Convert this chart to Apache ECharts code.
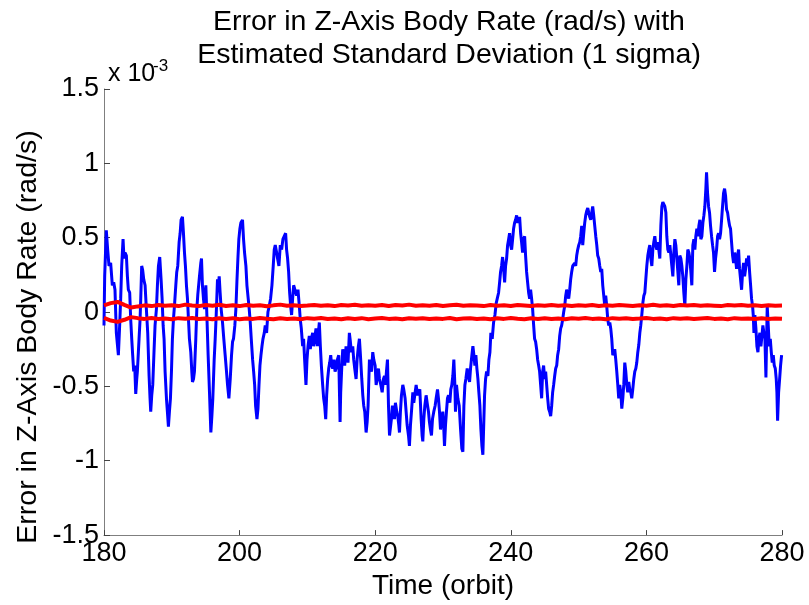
<!DOCTYPE html>
<html><head><meta charset="utf-8">
<script src="https://cdn.jsdelivr.net/npm/echarts@6/dist/echarts.min.js"></script>
<style>html,body{margin:0;padding:0;background:#fff}#c{width:809px;height:605px}</style>
</head><body><div id="c"></div>
<script>
// Title / labels
const titleLines = ['Error in Z-Axis Body Rate (rad/s) with', 'Estimated Standard Deviation (1 sigma)'];
const xLabel = 'Time (orbit)';
const yLabel = 'Error in Z-Axis Body Rate (rad/s)';
const yScaleBase = 'x 10';
const yScaleExp = '-3';

// Blue: error in Z-axis body rate, units 1e-3 rad/s, [orbit, value]
const blueA = [[180.00,-0.09],[180.10,0.24],[180.34,0.55],[180.54,0.42],[180.74,0.31],[180.98,0.33],[181.23,0.18],[181.43,0.20],[181.62,0.15],[181.82,-0.14],[182.12,-0.29],[182.31,-0.09],[182.46,0.09],[182.61,0.31],[182.81,0.49],[182.95,0.36],[183.10,0.40],[183.30,0.38],[183.45,0.24],[183.59,0.15],[183.79,0.13],[183.94,-0.05],[184.09,-0.18],[184.23,-0.29],[184.38,-0.40],[184.53,-0.36],[184.68,-0.55],[184.83,-0.45],[184.92,-0.40],[185.07,-0.27],[185.17,-0.18],[185.32,-0.05],[185.42,0.09],[185.56,0.31],[185.71,0.28],[185.86,0.22],[186.06,0.18],[186.25,0.02],[186.45,-0.14],[186.65,-0.43],[186.79,-0.58],[186.89,-0.67],[187.04,-0.56],[187.19,-0.49],[187.39,-0.25],[187.53,-0.09],[187.73,0.02],[187.88,0.18],[188.03,0.31],[188.22,0.37],[188.42,0.22],[188.57,0.09],[188.72,-0.09],[188.86,-0.18],[189.01,-0.40],[189.21,-0.58],[189.35,-0.67],[189.50,-0.77],[189.65,-0.67],[189.80,-0.58],[189.95,-0.40],[190.09,-0.18],[190.24,-0.05],[190.39,0.04],[190.59,0.18],[190.73,0.27],[190.88,0.31],[191.08,0.47],[191.23,0.53],[191.37,0.62],[191.57,0.64],[191.72,0.53],[191.87,0.40],[192.01,0.31],[192.16,0.18],[192.31,0.09],[192.46,-0.05],[192.60,-0.18],[192.80,-0.27],[192.95,-0.40],[193.05,-0.47],[193.20,-0.45],[193.34,-0.40],[193.54,-0.18],[193.69,0.02],[193.84,0.12]];
const blueB = [[194.08,0.24],[194.28,0.33],[194.38,0.36],[194.52,0.18],[194.67,0.09],[194.82,0.02],[195.02,0.18],[195.17,-0.02],[195.36,-0.29],[195.56,-0.54],[195.76,-0.81],[195.91,-0.70],[196.05,-0.58],[196.25,-0.32],[196.40,-0.18],[196.55,-0.02],[196.74,0.22],[196.89,0.18],[196.99,0.24],[197.13,0.13],[197.28,0.02],[197.48,-0.07],[197.67,-0.18],[197.87,-0.29],[198.07,-0.40],[198.22,-0.49],[198.42,-0.58],[198.62,-0.45],[198.81,-0.29],[198.96,-0.20],[199.10,-0.18],[199.30,-0.09],[199.45,0.02],[199.60,0.20],[199.75,0.36],[199.89,0.49],[200.04,0.56],[200.19,0.60],[200.43,0.62],[200.58,0.49],[200.73,0.40],[200.93,0.31],[201.08,0.18],[201.27,0.09],[201.42,0.02],[201.57,-0.07],[201.72,-0.18],[201.92,-0.32],[202.07,-0.40],[202.22,-0.49],[202.36,-0.63],[202.56,-0.72],[202.71,-0.65],[202.86,-0.49],[203.00,-0.36],[203.15,-0.29],[203.30,-0.23],[203.45,-0.18],[203.64,-0.14],[203.78,-0.09],[203.98,-0.14],[204.18,0.00],[204.37,0.04],[204.57,0.09],[204.77,0.18],[204.96,0.31],[205.11,0.42],[205.26,0.45],[205.46,0.40],[205.60,0.36],[205.80,0.31],[206.00,0.45],[206.20,0.42],[206.39,0.49],[206.59,0.51],[206.79,0.53],[206.93,0.42],[207.08,0.36],[207.23,0.27],[207.38,0.13],[207.53,0.04],[207.67,-0.02],[207.82,0.09],[207.97,0.18]];
const blueC = [[208.21,0.18],[208.41,0.11],[208.61,0.15],[208.81,0.04],[208.95,-0.05],[209.10,-0.11],[209.30,-0.23],[209.44,-0.18],[209.59,-0.32],[209.79,-0.49],[209.94,-0.32],[210.09,-0.23],[210.28,-0.16],[210.43,-0.25],[210.58,-0.18],[210.78,-0.14],[210.92,-0.23],[211.07,-0.18],[211.27,-0.11],[211.46,-0.23],[211.61,-0.14],[211.76,-0.07],[211.91,-0.23],[212.06,-0.36],[212.25,-0.49],[212.40,-0.58],[212.55,-0.63],[212.70,-0.72],[212.84,-0.56],[212.99,-0.45],[213.14,-0.38],[213.29,-0.34],[213.44,-0.29],[213.58,-0.36],[213.73,-0.38],[213.93,-0.32],[214.08,-0.40],[214.22,-0.38],[214.42,-0.32],[214.62,-0.29],[214.72,-0.52],[214.82,-0.74],[214.91,-0.54],[215.06,-0.38],[215.21,-0.25],[215.36,-0.32],[215.50,-0.36],[215.70,-0.23],[215.84,-0.27],[215.99,-0.34],[216.19,-0.14],[216.34,-0.20],[216.49,-0.27],[216.69,-0.23],[216.83,-0.32],[216.98,-0.38],[217.18,-0.45],[217.33,-0.32],[217.52,-0.23],[217.67,-0.18],[217.82,-0.29],[218.02,-0.45],[218.17,-0.56],[218.31,-0.63],[218.46,-0.67],[218.66,-0.81],[218.81,-0.74],[218.95,-0.63],[219.15,-0.32],[219.30,-0.38],[219.45,-0.40],[219.64,-0.27],[219.79,-0.32],[219.99,-0.36],[220.14,-0.49],[220.34,-0.43],[220.48,-0.38],[220.63,-0.45],[220.83,-0.49],[221.03,-0.54],[221.22,-0.45],[221.37,-0.43],[221.51,-0.49],[221.66,-0.40],[221.81,-0.32],[221.96,-0.63],[222.11,-0.83]];
const blueD = [[222.24,-0.83],[222.39,-0.72],[222.54,-0.63],[222.69,-0.67],[222.84,-0.72],[222.98,-0.61],[223.18,-0.67],[223.33,-0.70],[223.48,-0.76],[223.58,-0.81],[223.72,-0.67],[223.87,-0.56],[224.07,-0.49],[224.21,-0.52],[224.41,-0.58],[224.56,-0.67],[224.71,-0.76],[224.91,-0.83],[225.05,-0.90],[225.20,-0.76],[225.35,-0.67],[225.55,-0.54],[225.69,-0.61],[225.89,-0.54],[226.04,-0.49],[226.23,-0.56],[226.38,-0.54],[226.58,-0.52],[226.78,-0.72],[226.92,-0.83],[227.02,-0.87],[227.17,-0.72],[227.32,-0.63],[227.51,-0.56],[227.66,-0.61],[227.86,-0.67],[228.00,-0.74],[228.15,-0.79],[228.30,-0.83],[228.45,-0.72],[228.64,-0.67],[228.84,-0.63],[228.99,-0.58],[229.19,-0.52],[229.33,-0.58],[229.48,-0.67],[229.63,-0.79],[229.78,-0.72],[229.97,-0.67],[230.12,-0.79],[230.22,-0.90],[230.37,-0.76],[230.51,-0.67],[230.66,-0.58],[230.81,-0.56],[231.01,-0.61],[231.15,-0.52],[231.30,-0.49],[231.45,-0.43],[231.60,-0.32],[231.75,-0.49],[231.84,-0.67],[231.99,-0.49],[232.19,-0.58],[232.39,-0.63],[232.59,-0.79],[232.78,-0.92],[232.93,-0.94],[233.08,-0.63],[233.23,-0.49],[233.37,-0.45],[233.57,-0.38],[233.72,-0.43],[233.92,-0.47],[234.06,-0.38],[234.26,-0.29],[234.41,-0.23],[234.56,-0.29],[234.70,-0.36],[234.85,-0.29],[235.00,-0.38],[235.15,-0.45],[235.29,-0.54],[235.44,-0.63],[235.59,-0.79],[235.74,-0.90],[235.88,-0.96],[236.03,-0.72]];
const blueE = [[236.13,-0.56],[236.28,-0.45],[236.43,-0.40],[236.62,-0.43],[236.77,-0.32],[236.92,-0.27],[237.06,-0.14],[237.26,-0.18],[237.46,-0.07],[237.66,-0.02],[237.85,0.06],[238.00,0.09],[238.20,0.13],[238.35,0.20],[238.49,0.27],[238.64,0.31],[238.79,0.37],[238.94,0.29],[239.09,0.20],[239.23,0.31],[239.38,0.36],[239.53,0.45],[239.68,0.49],[239.82,0.53],[239.97,0.45],[240.12,0.42],[240.27,0.49],[240.41,0.56],[240.56,0.60],[240.71,0.62],[240.86,0.65],[241.00,0.60],[241.15,0.62],[241.30,0.64],[241.45,0.53],[241.59,0.47],[241.74,0.40],[241.89,0.49],[242.04,0.51],[242.18,0.38],[242.33,0.27],[242.48,0.20],[242.63,0.13],[242.78,0.09],[242.92,0.15],[243.07,0.09],[243.22,0.02],[243.37,-0.09],[243.51,-0.18],[243.66,-0.20],[243.81,-0.25],[243.96,-0.32],[244.11,-0.36],[244.25,-0.40],[244.40,-0.49],[244.55,-0.58],[244.70,-0.40],[244.84,-0.36],[244.99,-0.45],[245.14,-0.40],[245.29,-0.49],[245.44,-0.58],[245.58,-0.65],[245.73,-0.67],[245.88,-0.70],[246.03,-0.63],[246.17,-0.54],[246.32,-0.49],[246.47,-0.43],[246.62,-0.38],[246.77,-0.36],[246.91,-0.29],[247.06,-0.25],[247.21,-0.16],[247.36,-0.11],[247.50,-0.09],[247.65,-0.05],[247.80,0.00],[247.95,0.04],[248.10,0.11],[248.24,0.15],[248.39,0.13],[248.54,0.09],[248.69,0.15],[248.83,0.22],[248.98,0.27],[249.13,0.31],[249.28,0.31],[249.43,0.33],[249.57,0.31],[249.72,0.38],[249.87,0.42],[250.02,0.45],[250.17,0.47]];
const blueF = [[250.31,0.51],[250.46,0.58],[250.61,0.45],[250.76,0.53],[250.90,0.60],[251.05,0.65],[251.20,0.68],[251.35,0.70],[251.49,0.67],[251.64,0.64],[251.79,0.62],[251.94,0.67],[252.08,0.71],[252.23,0.65],[252.38,0.58],[252.53,0.51],[252.68,0.45],[252.82,0.38],[252.97,0.36],[253.12,0.31],[253.27,0.27],[253.41,0.29],[253.56,0.18],[253.71,0.11],[253.86,0.04],[254.00,0.11],[254.15,0.04],[254.30,-0.05],[254.45,-0.09],[254.60,-0.07],[254.74,-0.11],[254.89,-0.18],[255.04,-0.29],[255.19,-0.27],[255.33,-0.25],[255.48,-0.32],[255.63,-0.40],[255.78,-0.49],[255.92,-0.58],[256.07,-0.49],[256.22,-0.54],[256.37,-0.65],[256.52,-0.58],[256.66,-0.49],[256.81,-0.34],[256.96,-0.40],[257.11,-0.49],[257.25,-0.54],[257.40,-0.47],[257.55,-0.52],[257.70,-0.54],[257.84,-0.58],[257.99,-0.52],[258.14,-0.45],[258.29,-0.40],[258.44,-0.38],[258.58,-0.34],[258.73,-0.27],[258.88,-0.22],[259.03,-0.14],[259.17,-0.09],[259.32,-0.02],[259.47,0.06],[259.62,0.11],[259.77,0.13],[259.91,0.22],[260.06,0.31],[260.21,0.38],[260.36,0.42],[260.50,0.45],[260.65,0.36],[260.80,0.31],[260.95,0.42],[261.09,0.47],[261.24,0.51],[261.39,0.45],[261.54,0.42],[261.69,0.47],[261.83,0.42],[261.98,0.36],[262.13,0.58],[262.28,0.71],[262.42,0.74],[262.57,0.75],[262.72,0.71],[262.87,0.67],[263.01,0.51],[263.16,0.42],[263.31,0.40],[263.46,0.45],[263.61,0.38],[263.75,0.31],[263.90,0.24],[264.05,0.40],[264.20,0.49]];
const blueG = [[264.34,0.45],[264.49,0.36],[264.64,0.27],[264.78,0.18],[264.93,0.38],[265.08,0.36],[265.23,0.31],[265.37,0.24],[265.52,0.13],[265.67,0.04],[265.82,0.22],[265.97,0.31],[266.11,0.42],[266.26,0.40],[266.41,0.36],[266.56,0.27],[266.70,0.18],[266.85,0.45],[267.00,0.49],[267.15,0.42],[267.29,0.51],[267.44,0.56],[267.59,0.51],[267.74,0.58],[267.89,0.62],[268.03,0.49],[268.18,0.51],[268.33,0.60],[268.48,0.65],[268.62,0.71],[268.77,0.83],[268.87,0.94],[269.02,0.80],[269.17,0.71],[269.31,0.67],[269.46,0.58],[269.61,0.51],[269.76,0.45],[269.90,0.40],[270.05,0.27],[270.20,0.36],[270.35,0.42],[270.50,0.51],[270.64,0.53],[270.79,0.49],[270.94,0.53],[271.09,0.62],[271.23,0.71],[271.38,0.80],[271.53,0.83],[271.68,0.78],[271.82,0.69],[271.97,0.67],[272.12,0.62],[272.27,0.58],[272.41,0.56],[272.56,0.47],[272.71,0.38],[272.86,0.33],[273.01,0.40],[273.15,0.36],[273.30,0.29],[273.45,0.38],[273.60,0.42],[273.74,0.29],[273.89,0.22],[274.04,0.15],[274.19,0.27],[274.33,0.33],[274.48,0.24],[274.63,0.29],[274.78,0.36],[274.92,0.31],[275.07,0.38],[275.22,0.27],[275.37,0.18],[275.51,0.09],[275.66,0.04],[275.76,-0.02],[275.86,-0.14],[276.00,-0.02],[276.15,-0.11],[276.30,-0.23],[276.45,-0.27],[276.59,-0.18],[276.74,-0.14],[276.89,-0.23],[277.04,-0.16],[277.18,-0.09],[277.33,-0.14],[277.48,-0.18],[277.63,-0.44],[277.73,-0.18],[277.82,0.04],[277.97,-0.09],[278.12,-0.23],[278.27,-0.18],[278.42,-0.27],[278.56,-0.34],[278.71,-0.29],[278.86,-0.36],[279.01,-0.38],[279.15,-0.45],[279.25,-0.54],[279.35,-0.73],[279.50,-0.54],[279.65,-0.45],[279.79,-0.36],[279.94,-0.29]];

// Red: estimated 1-sigma bounds, units 1e-3 rad/s
const sigmaOrbit = [180,181,182,183,184,185,186,187,188,189,190,191,192,193,194,195,196,197,198,199,200,201,202,203,204,205,206,207,208,209,210,211,212,213,214,215,216,217,218,219,220,221,222,223,224,225,226,227,228,229,230,231,232,233,234,235,236,237,238,239,240,241,242,243,244,245,246,247,248,249,250,251,252,253,254,255,256,257,258,259,260,261,262,263,264,265,266,267,268,269,270,271,272,273,274,275,276,277,278,279,280];
const sigmaUpper = [0.045,0.060,0.068,0.048,0.030,0.038,0.045,0.040,0.048,0.042,0.046,0.040,0.050,0.044,0.040,0.047,0.043,0.049,0.041,0.045,0.040,0.048,0.043,0.046,0.039,0.045,0.050,0.042,0.046,0.041,0.044,0.048,0.042,0.046,0.040,0.047,0.044,0.049,0.042,0.046,0.043,0.048,0.041,0.047,0.044,0.050,0.042,0.046,0.043,0.048,0.041,0.045,0.049,0.042,0.046,0.044,0.040,0.047,0.043,0.046,0.041,0.048,0.044,0.040,0.046,0.043,0.048,0.042,0.045,0.040,0.046,0.043,0.048,0.041,0.045,0.042,0.047,0.044,0.040,0.046,0.043,0.049,0.042,0.045,0.041,0.047,0.044,0.048,0.042,0.046,0.043,0.040,0.047,0.044,0.048,0.042,0.045,0.041,0.046,0.043,0.044];
const sigmaLower = [-0.040,-0.057,-0.066,-0.052,-0.034,-0.041,-0.046,-0.040,-0.047,-0.043,-0.049,-0.041,-0.045,-0.040,-0.047,-0.043,-0.048,-0.042,-0.046,-0.041,-0.048,-0.043,-0.046,-0.040,-0.045,-0.049,-0.042,-0.046,-0.043,-0.048,-0.041,-0.045,-0.040,-0.047,-0.043,-0.049,-0.042,-0.046,-0.041,-0.048,-0.044,-0.040,-0.046,-0.043,-0.049,-0.042,-0.045,-0.041,-0.047,-0.043,-0.046,-0.040,-0.048,-0.044,-0.041,-0.047,-0.043,-0.049,-0.042,-0.046,-0.040,-0.045,-0.048,-0.042,-0.046,-0.041,-0.047,-0.043,-0.049,-0.042,-0.045,-0.040,-0.046,-0.043,-0.048,-0.041,-0.045,-0.042,-0.047,-0.044,-0.040,-0.046,-0.043,-0.048,-0.041,-0.045,-0.042,-0.047,-0.043,-0.040,-0.046,-0.044,-0.048,-0.041,-0.045,-0.043,-0.047,-0.042,-0.046,-0.043,-0.045];

const FONT = '"Liberation Sans", Arial, Helvetica, sans-serif';
const blue = [].concat(blueA, blueB, blueC, blueD, blueE, blueF, blueG);
const upper = sigmaOrbit.map((t, i) => [t, sigmaUpper[i]]);
const lower = sigmaOrbit.map((t, i) => [t, sigmaLower[i]]);

const chart = echarts.init(document.getElementById('c'), null, {renderer: 'canvas'});
const axisGray = '#7f7f7f';
chart.setOption({
  animation: false,
  backgroundColor: '#ffffff',
  title: {
    text: titleLines.join('\n'), left: 444, top: 1, textAlign: 'center',
    textStyle: {fontSize: 28.5, fontWeight: 'normal', color: '#000', fontFamily: FONT, lineHeight: 33}
  },
  grid: {left: 104, right: 27, top: 89, bottom: 68, containLabel: false},
  xAxis: {
    type: 'value', min: 180, max: 280, interval: 20,
    name: xLabel, nameLocation: 'middle', nameGap: 21,
    nameTextStyle: {fontSize: 28, color: '#000', fontFamily: FONT, verticalAlign: 'top'},
    axisLine: {show: true, onZero: false, lineStyle: {color: axisGray, width: 1}},
    axisTick: {show: true, inside: true, length: 5, lineStyle: {color: '#444', width: 1}},
    axisLabel: {show: true, fontSize: 27, color: '#000', fontFamily: FONT, margin: 5},
    splitLine: {show: false}
  },
  yAxis: {
    type: 'value', min: -1.5, max: 1.5, interval: 0.5,
    axisLine: {show: true, onZero: false, lineStyle: {color: axisGray, width: 1}},
    axisTick: {show: true, inside: true, length: 6, lineStyle: {color: '#444', width: 1}},
    axisLabel: {show: true, fontSize: 27, color: '#000', fontFamily: FONT, margin: 5},
    splitLine: {show: false}
  },
  graphic: [
    {type: 'text', x: 28, y: 337, rotation: Math.PI / 2,
     style: {text: yLabel, fontSize: 28.5, fontFamily: FONT, fill: '#000', align: 'center', verticalAlign: 'middle', textAlign: 'center', textVerticalAlign: 'middle'}},
    {type: 'text', x: 108, y: 62,
     style: {text: yScaleBase, fontSize: 25, fontFamily: FONT, fill: '#000', align: 'left', verticalAlign: 'top'}},
    {type: 'text', x: 153, y: 58,
     style: {text: yScaleExp, fontSize: 17, fontFamily: FONT, fill: '#000', align: 'left', verticalAlign: 'top'}}
  ],
  series: [
    {type: 'line', data: blue, symbol: 'none', showSymbol: false, silent: true, z: 2,
     lineStyle: {color: '#0000ff', width: 3}},
    {type: 'line', data: upper, symbol: 'none', showSymbol: false, silent: true, z: 3,
     lineStyle: {color: '#ff0000', width: 4}},
    {type: 'line', data: lower, symbol: 'none', showSymbol: false, silent: true, z: 3,
     lineStyle: {color: '#ff0000', width: 4}}
  ]
});
</script></body></html>
